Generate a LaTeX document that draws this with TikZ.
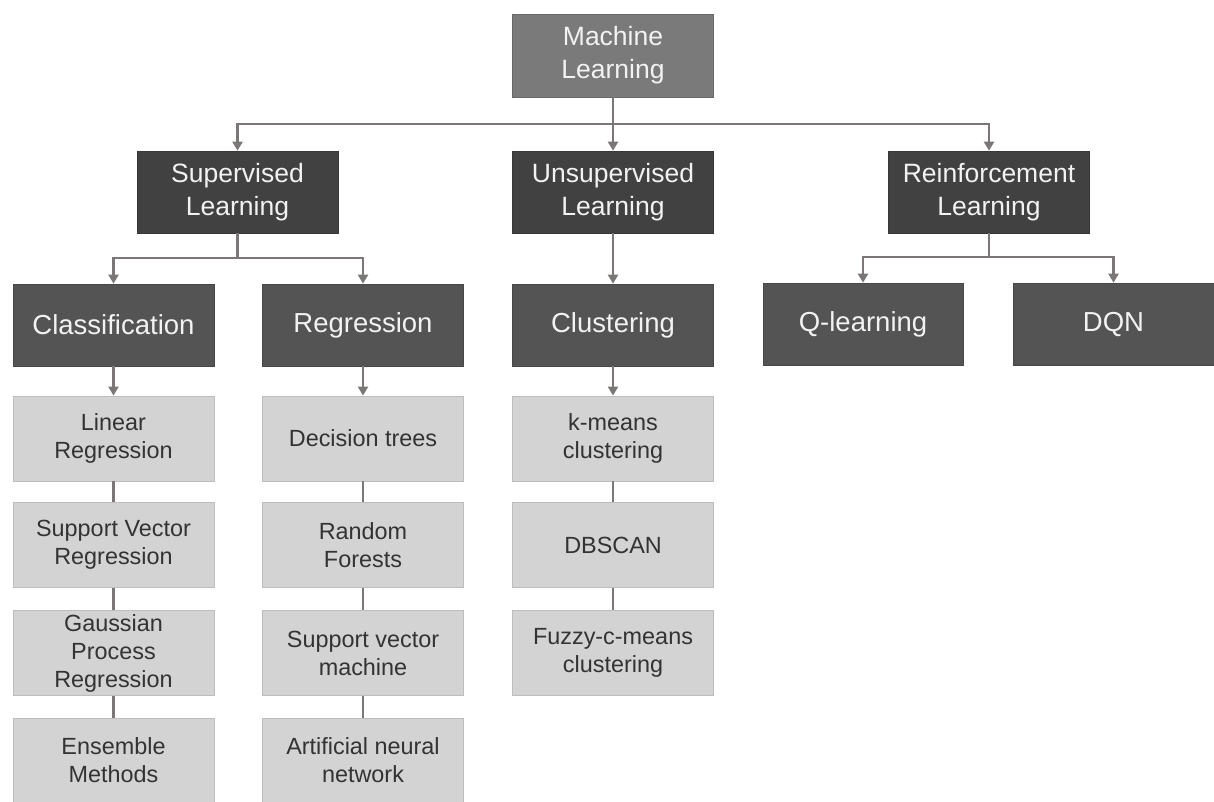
\documentclass[tikz,border=0pt]{standalone}
\usepackage{fontspec}
\setmainfont{Liberation Sans}
\usetikzlibrary{arrows.meta}
\definecolor{topfill}{HTML}{7A7A7A}
\definecolor{mainfill}{HTML}{414141}
\definecolor{subfill}{HTML}{545454}
\definecolor{leaffill}{HTML}{D4D3D3}
\definecolor{leafedge}{HTML}{BDBDBD}
\definecolor{wire}{HTML}{7B7777}
\definecolor{lighttext}{HTML}{F2F2F2}
\definecolor{darktext}{HTML}{333333}
\tikzset{
  box/.style={rectangle, inner sep=0pt, align=center, minimum width=201pt},
  rootbox/.style={box, fill=topfill, draw=topfill!85!black, line width=0.6pt, minimum height=83pt,
    text=lighttext, font=\fontsize{26.5}{33}\selectfont},
  mainbox/.style={box, fill=mainfill, draw=mainfill!85!black, line width=0.6pt, minimum height=82pt,
    text=lighttext, font=\fontsize{26.5}{33}\selectfont},
  subbox/.style={box, fill=subfill, draw=subfill!85!black, line width=0.6pt, minimum height=82pt,
    text=lighttext, font=\fontsize{27.5}{33}\selectfont},
  leafbox/.style={box, fill=leaffill, draw=leafedge, line width=0.8pt, minimum height=85pt,
    text=darktext, font=\fontsize{23.4}{28}\selectfont},
  wireline/.style={draw=wire, line width=2.2pt},
  arr/.style={wireline, -{Triangle[length=9pt,width=10pt]}},
}
\begin{document}
\begin{tikzpicture}[x=1pt,y=-1pt]
\useasboundingbox (0,0) rectangle (1214,802);

% root
\node[rootbox] (ml) at (613,55.5) {Machine\\Learning};

% learning paradigms
\node[mainbox] (sup) at (237.5,192) {Supervised\\Learning};
\node[mainbox] (uns) at (613,192) {Unsupervised\\Learning};
\node[mainbox] (rein) at (989,192) {Reinforcement\\Learning};

% task families
\node[subbox] (cls) at (113.5,325) {Classification};
\node[subbox] (reg) at (363,325) {Regression};
\node[subbox] (clu) at (613,325) {Clustering};
\node[subbox, minimum width=200pt] (ql) at (863,324) {Q-learning};
\node[subbox] (dqn) at (1113.5,324) {DQN};

% algorithms under classification
\node[leafbox] (c1) at (113.5,438.5) {Linear\\Regression};
\node[leafbox] (c2) at (113.5,545) {Support Vector\\Regression};
\node[leafbox] (c3) at (113.5,653) {Gaussian\\Process\\Regression};
\node[leafbox] (c4) at (113.5,760.5) {Ensemble\\Methods};

% algorithms under regression
\node[leafbox] (r1) at (363,438.5) {Decision trees};
\node[leafbox] (r2) at (363,545) {Random\\Forests};
\node[leafbox] (r3) at (363,653) {Support vector\\machine};
\node[leafbox] (r4) at (363,760.5) {Artificial neural\\network};

% algorithms under clustering
\node[leafbox] (k1) at (613,438.5) {k-means\\clustering};
\node[leafbox] (k2) at (613,545) {DBSCAN};
\node[leafbox] (k3) at (613,653) {Fuzzy-c-means\\clustering};

% junction points of the tree
\coordinate (j0) at (613,124);
\coordinate (j1) at (237.5,258);
\coordinate (j2) at (989,257);

% root to paradigms
\draw[wireline] (ml.south) -- (j0);
\draw[arr] (j0) -- (uns.north);
\draw[arr] (j0) -| (sup.north);
\draw[arr] (j0) -| (rein.north);

% supervised split
\draw[wireline] (sup.south) -- (j1);
\draw[arr] (j1) -| (cls.north);
\draw[arr] (j1) -| (reg.north);

% unsupervised
\draw[arr] (uns.south) -- (clu.north);

% reinforcement split
\draw[wireline] (rein.south) -- (j2);
\draw[arr] (j2) -| (ql.north);
\draw[arr] (j2) -| (dqn.north);

% into the algorithm columns
\draw[arr] (cls.south) -- (c1.north);
\draw[arr] (reg.south) -- (r1.north);
\draw[arr] (clu.south) -- (k1.north);

% chains of algorithms
\draw[wireline] (c1) -- (c2) (c2) -- (c3) (c3) -- (c4);
\draw[wireline] (r1) -- (r2) (r2) -- (r3) (r3) -- (r4);
\draw[wireline] (k1) -- (k2) (k2) -- (k3);
\end{tikzpicture}
\end{document}
